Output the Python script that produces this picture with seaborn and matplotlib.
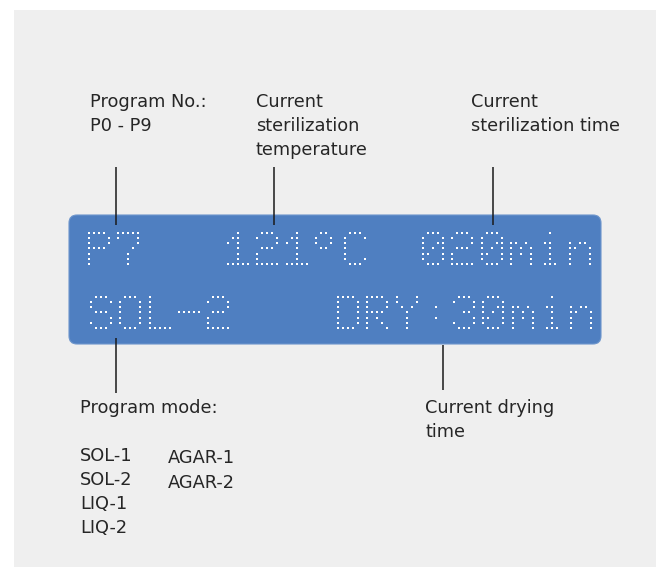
import matplotlib
matplotlib.use("Agg")
import matplotlib.pyplot as plt
from matplotlib.patches import FancyBboxPatch, Rectangle
import seaborn as sns
import pandas as pd

# ---------------- data ----------------
lcd_top_text = ["P7", "121°C", "020min"]
lcd_top_x = [89, 228, 423]
lcd_bottom_text = ["SOL-2", "DRY:", "30min"]
lcd_bottom_x = [91, 338, 454]

label_lines = [
    ["Program No.:", "P0 - P9"],
    ["Current", "sterilization", "temperature"],
    ["Current", "sterilization time"],
    ["Program mode:"],
    ["Current drying", "time"],
]
label_xy = [(90, 107), (256, 107), (471, 107), (80, 413), (425, 413)]

mode_col1 = ["SOL-1", "SOL-2", "LIQ-1", "LIQ-2"]
mode_col2 = ["AGAR-1", "AGAR-2"]

# leader lines (x, y_start, y_end)
leader_x = [116, 274, 493, 116, 443]
leader_y0 = [167, 167, 167, 338, 345]
leader_y1 = [225, 225, 225, 393, 390]

GLYPHS = {
    'P': ["####.", "#...#", "#...#", "####.", "#....", "#....", "#...."],
    '7': ["#####", "#...#", "....#", "...#.", "..#..", "..#..", "..#.."],
    '1': ["..#..", ".##..", "#.#..", "..#..", "..#..", "..#..", "#####"],
    '2': [".###.", "#...#", "....#", ".###.", "#....", "#....", "#####"],
    '°': [".##..", "#..#.", "#..#.", ".##..", ".....", ".....", "....."],
    'C': [".###.", "#...#", "#....", "#....", "#....", "#...#", ".###."],
    '0': [".###.", "#...#", "#..##", "#.#.#", "##..#", "#...#", ".###."],
    'm': [".....", ".....", "##.#.", "#.#.#", "#.#.#", "#...#", "#...#"],
    'i': ["..#..", ".....", ".##..", "..#..", "..#..", "..#..", ".###."],
    'n': [".....", ".....", "#.##.", "##..#", "#...#", "#...#", "#...#"],
    'S': [".###.", "#...#", "#....", ".###.", "....#", "#...#", ".###."],
    'O': [".###.", "#...#", "#...#", "#...#", "#...#", "#...#", ".###."],
    'L': ["#....", "#....", "#....", "#....", "#....", "#....", "#####"],
    '-': [".....", ".....", ".....", "#####", ".....", ".....", "....."],
    'D': ["####.", "#...#", "#...#", "#...#", "#...#", "#...#", "####."],
    'R': ["####.", "#...#", "#...#", "####.", "#.#..", "#..#.", "#...#"],
    'Y': ["#...#", "#...#", ".#.#.", "..#..", "..#..", "..#..", "..#.."],
    ':': [".....", ".....", "..#..", ".....", "..#..", ".....", "....."],
    '3': [".###.", "#...#", "....#", "..##.", "....#", "#...#", ".###."],
    ' ': ["....."] * 7,
}

CHAR_PITCH = 29.3
DOT_DX = 5.0
DOT_DY = 5.3


def dots_for(text, x0, y0):
    xs, ys = [], []
    for k, ch in enumerate(text):
        g = GLYPHS[ch]
        for r, row in enumerate(g):
            for c, v in enumerate(row):
                if v == '#':
                    xs.append(x0 + k * CHAR_PITCH + c * DOT_DX)
                    ys.append(y0 + r * DOT_DY)
    return xs, ys


# ---------------- figure ----------------
sns.set_theme(style="white")
plt.rcParams['font.family'] = ['DejaVu Sans']

fig = plt.figure(figsize=(6.6, 5.67), dpi=100)
fig.patch.set_facecolor("white")
ax = fig.add_axes([0, 0, 1, 1])
ax.set_facecolor("white")

# gray panel
ax.add_patch(Rectangle((14, 10), 642, 560, facecolor="#efefef", edgecolor="none", zorder=0))

# LCD box
r = 8
ax.add_patch(FancyBboxPatch((69 + r, 215 + r), 532 - 2 * r, 129 - 2 * r,
                            boxstyle=f"round,pad={r}", facecolor="#4f7fc1",
                            edgecolor="#6d95cc", linewidth=0.8, zorder=1))

# dots
xs, ys = [], []
for t, x0 in zip(lcd_top_text, lcd_top_x):
    a, b = dots_for(t, x0, 232.5)
    xs += a; ys += b
for t, x0 in zip(lcd_bottom_text, lcd_bottom_x):
    a, b = dots_for(t, x0, 296.5)
    xs += a; ys += b
df = pd.DataFrame({"x": xs, "y": ys})
sns.scatterplot(data=df, x="x", y="y", marker="s", s=3.0, color="white",
                linewidth=0, ax=ax, legend=False, zorder=3)

# leader lines
for x, y0, y1 in zip(leader_x, leader_y0, leader_y1):
    ax.plot([x, x], [y0, y1], color="#1a1a1a", lw=1.1, zorder=4, solid_capstyle="butt")

# labels
fs = 12.8
tc = "#262626"
for lines, (x, y) in zip(label_lines, label_xy):
    for i, s in enumerate(lines):
        ax.text(x, y + i * 24, s, fontsize=fs, color=tc, ha="left", va="baseline")
for i, s in enumerate(mode_col1):
    ax.text(80, 461 + i * 24, s, fontsize=fs, color=tc, ha="left", va="baseline")
for i, s in enumerate(mode_col2):
    ax.text(168, 463 + i * 24.5, s, fontsize=fs, color=tc, ha="left", va="baseline")

ax.set_xlim(0, 660)
ax.set_ylim(567, 0)
ax.set_xlabel("")
ax.set_ylabel("")
ax.axis("off")

fig.savefig("out.png", dpi=100, facecolor="white")
